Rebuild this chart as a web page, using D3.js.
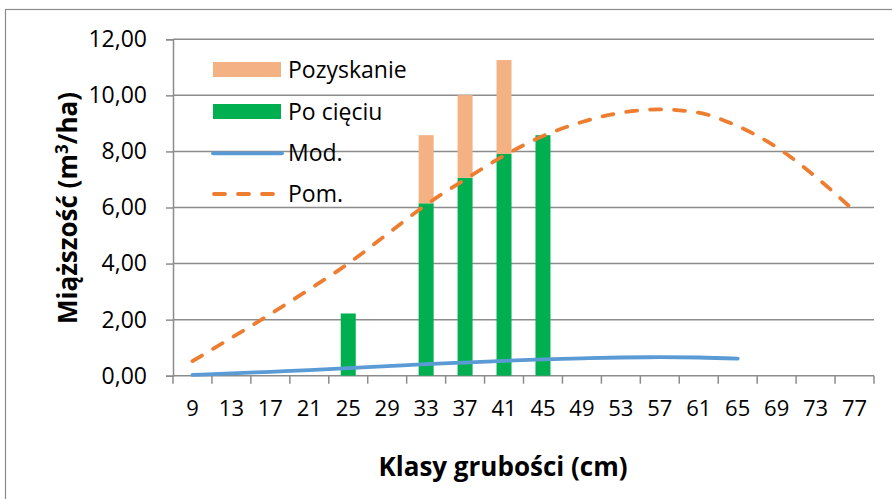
<!DOCTYPE html>
<html>
<head>
<meta charset="utf-8">
<script src="https://cdn.jsdelivr.net/npm/d3@7"></script>
<style>
  html, body { margin: 0; padding: 0; background: #fff; }
  svg { display: block; }
  text { font-family: "Open Sans", "Noto Sans", sans-serif; fill: #000; }
</style>
</head>
<body>
<svg id="chart" width="892" height="499"></svg>
<script>
// ---- data ----
const categories = ["9","13","17","21","25","29","33","37","41","45","49","53","57","61","65","69","73","77"];
const poCieciu   = [null,null,null,null,2.22,null,6.15,7.06,7.91,8.58,null,null,null,null,null,null,null,null];
const pozyskanie = [null,null,null,null,0,null,2.43,2.95,3.35,0,null,null,null,null,null,null,null,null];
const modValues  = [0.03,0.08,0.14,0.20,0.27,0.34,0.41,0.47,0.53,0.58,0.62,0.65,0.66,0.65,0.61,null,null,null];
const pomValues  = [0.52,1.35,2.2,3.08,4.0,5.05,6.1,7.0,7.85,8.55,9.05,9.38,9.5,9.38,8.9,8.15,7.1,5.87];
const yTicks     = [0,2,4,6,8,10,12];
const yTickLabels = ["0,00","2,00","4,00","6,00","8,00","10,00","12,00"];
const seriesNames = ["Pozyskanie","Po cięciu","Mod.","Pom."];
const colors = { pozyskanie: "#F4B183", poCieciu: "#00B050", mod: "#5B9BD5", pom: "#ED7D31" };

// ---- layout ----
const svg = d3.select("#chart");
const plot = { left: 173, right: 874, top: 39.3, bottom: 375.7 };

// chart frame (cut off on right/bottom in reference)
svg.append("rect").attr("x", 5.5).attr("y", 9.5).attr("width", 900).attr("height", 500)
  .attr("fill", "none").attr("stroke", "#8a8a8a").attr("stroke-width", 1.2);

const x = d3.scaleBand().domain(categories).range([plot.left, plot.right]).padding(0);
const y = d3.scaleLinear().domain([0, 12]).range([plot.bottom, plot.top]);
const bw = x.bandwidth();
const barW = bw * 0.385;
const cx = c => x(c) + bw / 2;

// gridlines
svg.append("g").selectAll("line").data(yTicks.filter(v => v > 0)).join("line")
  .attr("x1", plot.left).attr("x2", plot.right)
  .attr("y1", d => y(d)).attr("y2", d => y(d))
  .attr("stroke", "#8c8c8c").attr("stroke-width", 1.5);

// y axis
const yAxis = d3.axisLeft(y).tickValues(yTicks).tickSize(7).tickPadding(19)
  .tickFormat((d, i) => yTickLabels[i]);
const gy = svg.append("g").attr("transform", `translate(${plot.left},0)`).call(yAxis);
gy.select(".domain").attr("stroke", "#8c8c8c").attr("stroke-width", 1.5);
gy.selectAll(".tick line").attr("stroke", "#8c8c8c").attr("stroke-width", 1.5);
gy.selectAll(".tick text").style("font-size", "23px").style("font-family", "'Open Sans', sans-serif").attr("fill", "#000");

// x axis (labels at centers, ticks at boundaries)
const xAxis = d3.axisBottom(x).tickSize(0).tickPadding(25);
const gx = svg.append("g").attr("transform", `translate(0,${plot.bottom})`).call(xAxis);
gx.select(".domain").remove();
gx.selectAll(".tick text").style("font-size", "22px").style("font-family", "'Open Sans', sans-serif").attr("fill", "#000");
const boundaries = categories.map(c => x(c)).concat([plot.right]);
svg.append("g").selectAll("line").data(boundaries).join("line")
  .attr("x1", d => d).attr("x2", d => d)
  .attr("y1", plot.bottom).attr("y2", plot.bottom + 8)
  .attr("stroke", "#8c8c8c").attr("stroke-width", 1.5);
svg.append("line").attr("x1", plot.left).attr("x2", plot.right)
  .attr("y1", plot.bottom).attr("y2", plot.bottom)
  .attr("stroke", "#8c8c8c").attr("stroke-width", 1.5);

// stacked bars
const barData = categories.map((c, i) => ({ c, a: poCieciu[i], b: pozyskanie[i] })).filter(d => d.a != null);
svg.append("g").selectAll("rect").data(barData).join("rect")
  .attr("x", d => cx(d.c) - barW / 2).attr("width", barW)
  .attr("y", d => y(d.a)).attr("height", d => y(0) - y(d.a))
  .attr("fill", colors.poCieciu);
svg.append("g").selectAll("rect").data(barData.filter(d => d.b > 0)).join("rect")
  .attr("x", d => cx(d.c) - barW / 2).attr("width", barW)
  .attr("y", d => y(d.a + d.b)).attr("height", d => y(d.a) - y(d.a + d.b))
  .attr("fill", colors.pozyskanie);

// lines
const lineGen = d3.line().defined(d => d.v != null).x(d => cx(d.c)).y(d => y(d.v)).curve(d3.curveMonotoneX);
svg.append("path").datum(categories.map((c, i) => ({ c, v: modValues[i] })))
  .attr("d", lineGen).attr("fill", "none").attr("stroke", colors.mod)
  .attr("stroke-width", 3.8).attr("stroke-linecap", "round");
svg.append("path").datum(categories.map((c, i) => ({ c, v: pomValues[i] })))
  .attr("d", lineGen).attr("fill", "none").attr("stroke", colors.pom)
  .attr("stroke-width", 3.8).attr("stroke-linecap", "round").attr("stroke-dasharray", "11,13");

// legend
const legY = [69.5, 111.5, 153.3, 194];
const lg = svg.append("g");
lg.append("rect").attr("x", 213).attr("y", legY[0] - 7.5).attr("width", 68).attr("height", 15).attr("fill", colors.pozyskanie);
lg.append("rect").attr("x", 213).attr("y", legY[1] - 7.5).attr("width", 68).attr("height", 15).attr("fill", colors.poCieciu);
lg.append("line").attr("x1", 213).attr("x2", 282).attr("y1", legY[2]).attr("y2", legY[2])
  .attr("stroke", colors.mod).attr("stroke-width", 3.8).attr("stroke-linecap", "round");
lg.append("line").attr("x1", 214).attr("x2", 282).attr("y1", legY[3]).attr("y2", legY[3])
  .attr("stroke", colors.pom).attr("stroke-width", 3.8).attr("stroke-linecap", "round").attr("stroke-dasharray", "11,13");
lg.selectAll("text").data(seriesNames).join("text")
  .attr("x", 288).attr("y", (d, i) => legY[i]).attr("dy", "0.35em")
  .style("font-size", "23px").text(d => d);

// axis titles
svg.append("text").attr("x", 503).attr("y", 476).attr("text-anchor", "middle")
  .style("font-size", "26px").style("font-weight", "bold").text("Klasy grubości (cm)");
svg.append("text").attr("transform", "translate(77,208) rotate(-90)").attr("text-anchor", "middle")
  .style("font-size", "26px").style("font-weight", "bold")
  .html('Miąższość (m<tspan dy="-9" style="font-size:17px">3</tspan><tspan dy="9">/ha)</tspan>');
</script>
</body>
</html>
